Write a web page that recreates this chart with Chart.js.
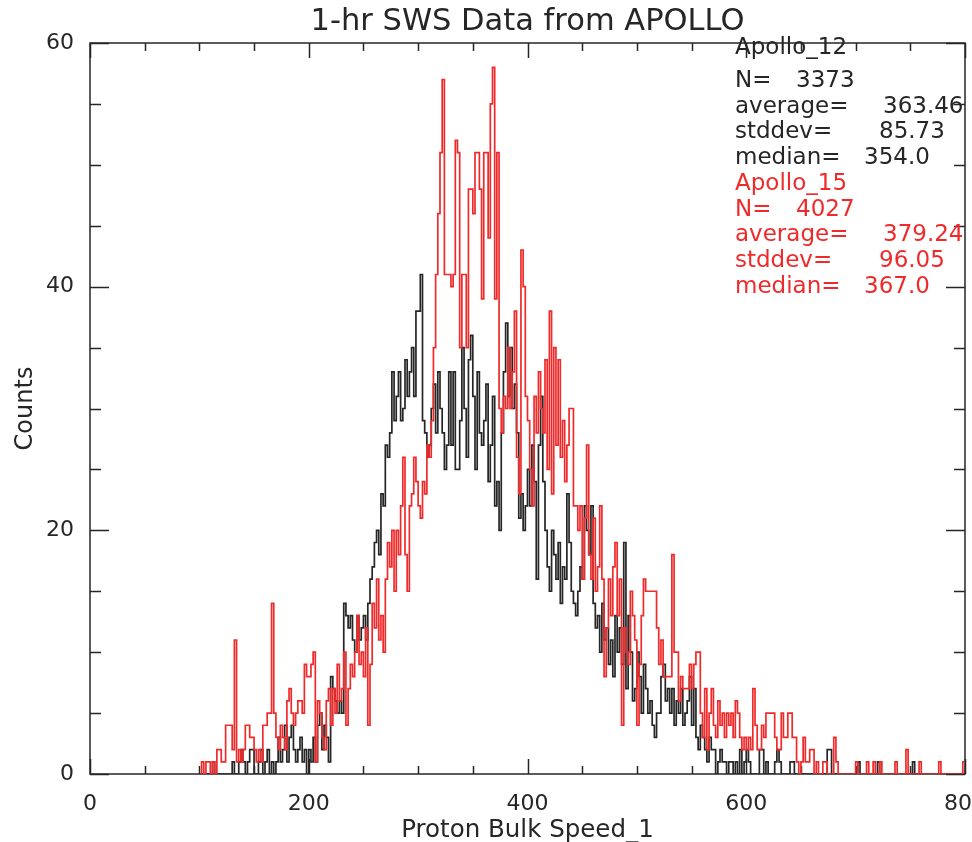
<!DOCTYPE html>
<html>
<head>
<meta charset="utf-8">
<title>1-hr SWS Data from APOLLO</title>
<script src="https://cdn.jsdelivr.net/npm/chart.js@4.4.0/dist/chart.umd.min.js"></script>
<style>
  html, body { margin: 0; padding: 0; background: #fff; }
</style>
</head>
<body>
<canvas id="chart" width="972" height="842"></canvas>
<script>
/* global Chart */
// histogram bins: 2 km/s wide, first bin starts at 100
const binStart = 100;
const binWidth = 2;

// Apollo_12 counts per bin (10 bins per row)
const apollo12Counts = [
  0, 0, 0, 0, 0, 0, 1, 0, 0, 0,
  0, 0, 0, 0, 0, 1, 0, 0, 1, 2,
  1, 0, 1, 2, 2, 0, 0, 1, 2, 0,
  1, 2, 0, 1, 0, 1, 3, 1, 2, 4,
  1, 3, 4, 2, 1, 2, 3, 1, 2, 0,
  2, 1, 3, 1, 4, 5, 2, 4, 3, 1,
  8, 7, 6, 5, 6, 5, 14, 13, 12, 13,
  11, 10, 13, 11, 12, 13, 11, 14, 16, 17,
  19, 20, 18, 23, 22, 27, 26, 28, 33, 29,
  31, 33, 29, 30, 34, 31, 33, 35, 31, 38,
  38, 41, 29, 28, 26, 27, 30, 32, 28, 33,
  30, 28, 25, 27, 33, 27, 33, 25, 25, 29,
  35, 30, 26, 34, 36, 31, 25, 33, 28, 27,
  29, 32, 24, 27, 31, 22, 24, 20, 28, 33,
  37, 31, 35, 30, 32, 28, 21, 23, 20, 22,
  25, 22, 27, 24, 16, 27, 31, 24, 20, 17,
  15, 20, 18, 16, 19, 14, 17, 16, 23, 19,
  15, 14, 13, 15, 17, 16, 22, 20, 18, 22,
  14, 12, 13, 10, 14, 11, 12, 9, 11, 8,
  13, 10, 12, 9, 19, 7, 13, 10, 6, 7,
  10, 8, 5, 9, 7, 5, 6, 4, 3, 5,
  5, 8, 9, 6, 7, 5, 7, 4, 6, 5,
  7, 4, 5, 6, 8, 4, 7, 3, 2, 4,
  3, 2, 1, 3, 2, 2, 0, 1, 2, 1,
  1, 0, 1, 1, 0, 1, 0, 2, 0, 1,
  2, 1, 0, 0, 0, 0, 2, 2, 0, 1,
  0, 0, 0, 1, 2, 1, 0, 0, 0, 0,
  1, 1, 0, 0, 0, 0, 0, 0, 0, 0,
  0, 0, 0, 0, 0, 0, 0, 2, 2, 0,
  0, 0, 0, 0, 0, 0, 0, 0, 0, 0,
  0, 1, 0, 0, 0, 0, 0, 0, 0, 0,
  1, 0, 0, 0, 0, 0, 0, 0, 0, 0,
  0, 0, 0, 0, 0, 0, 1, 0, 0, 0,
  0, 0, 0, 0, 0, 0, 0, 0, 0, 0,
  0, 0, 0, 0, 0, 0, 0, 0, 0, 0
];

// Apollo_15 counts per bin
const apollo15Counts = [
  0, 1, 0, 1, 1, 0, 1, 0, 2, 2,
  1, 1, 4, 4, 4, 2, 11, 1, 2, 1,
  2, 4, 4, 3, 3, 2, 1, 2, 1, 4,
  4, 5, 5, 14, 5, 3, 2, 4, 3, 2,
  6, 7, 5, 4, 5, 6, 6, 5, 9, 8,
  8, 9, 10, 1, 6, 5, 3, 2, 6, 7,
  4, 7, 5, 9, 6, 7, 10, 4, 7, 9,
  8, 10, 13, 9, 10, 8, 12, 4, 9, 14,
  12, 16, 11, 13, 10, 16, 19, 17, 20, 15,
  20, 18, 22, 26, 18, 15, 22, 23, 26, 24,
  22, 21, 24, 23, 27, 26, 29, 35, 41, 46,
  51, 57, 41, 41, 41, 40, 41, 52, 51, 35,
  41, 41, 35, 48, 48, 46, 51, 51, 48, 39,
  51, 51, 44, 55, 58, 39, 51, 30, 28, 31,
  30, 35, 30, 33, 38, 26, 23, 43, 40, 31,
  29, 25, 22, 31, 28, 33, 30, 28, 34, 25,
  38, 23, 35, 27, 34, 26, 29, 24, 27, 30,
  30, 22, 22, 20, 22, 16, 21, 27, 18, 16,
  21, 15, 17, 22, 16, 8, 12, 16, 13, 17,
  19, 13, 16, 4, 12, 10, 9, 15, 13, 11,
  4, 9, 13, 16, 15, 15, 15, 15, 15, 12,
  9, 11, 8, 8, 8, 8, 18, 10, 10, 6,
  8, 7, 7, 7, 9, 7, 9, 10, 10, 5,
  3, 7, 2, 5, 7, 4, 3, 6, 4, 5,
  3, 5, 4, 5, 3, 6, 5, 3, 2, 3,
  2, 3, 2, 7, 4, 2, 2, 4, 3, 5,
  5, 5, 5, 3, 2, 2, 5, 3, 3, 5,
  5, 3, 3, 1, 0, 1, 3, 1, 1, 2,
  2, 0, 1, 0, 0, 1, 1, 0, 0, 0,
  3, 1, 0, 0, 0, 0, 0, 0, 0, 0,
  1, 0, 0, 0, 0, 1, 0, 0, 1, 0,
  0, 1, 0, 0, 0, 0, 0, 0, 1, 0,
  0, 0, 0, 2, 0, 0, 0, 0, 0, 1,
  0, 0, 0, 0, 0, 0, 0, 0, 1, 0,
  0, 0, 0, 0, 0, 0, 0, 0, 0, 1
];

// axis ticks
const xTicks = [0, 200, 400, 600, 800];
const xMinorTicks = [0, 50, 100, 150, 200, 250, 300, 350, 400, 450, 500, 550, 600, 650, 700, 750, 800];
const yTicks = [0, 20, 40, 60];
const yMinorTicks = [0, 5, 10, 15, 20, 25, 30, 35, 40, 45, 50, 55, 60];

// stats block printed in the upper right
const statsApollo12 = [['Apollo_12', ''], ['N=', '3373'], ['average=', '363.46'], ['stddev=', '85.73'], ['median=', '354.0']];
const statsApollo15 = [['Apollo_15', ''], ['N=', '4027'], ['average=', '379.24'], ['stddev=', '96.05'], ['median=', '367.0']];

const FONT = '"DejaVu Sans", "Liberation Sans", sans-serif';
const INK = '#262626';
const RED = '#f02a2a';

function toPoints(counts) {
  return counts.map((c, i) => ({ x: binStart + i * binWidth + binWidth / 2, y: c }));
}

// box with inward ticks on all four sides, drawn under the histograms
const frameTicks = {
  id: 'frameTicks',
  beforeDatasetsDraw(chart) {
    const { ctx, chartArea: a, scales: { x, y } } = chart;
    ctx.save();
    ctx.strokeStyle = INK;
    ctx.lineWidth = 1.5;
    ctx.strokeRect(a.left, a.top, a.right - a.left, a.bottom - a.top);
    ctx.beginPath();
    xMinorTicks.forEach(v => {
      const px = Math.round(x.getPixelForValue(v)) + 0.5;
      const len = xTicks.includes(v) ? 15 : 8;
      ctx.moveTo(px, a.bottom); ctx.lineTo(px, a.bottom - len);
      ctx.moveTo(px, a.top); ctx.lineTo(px, a.top + len);
    });
    yMinorTicks.forEach(v => {
      const py = Math.round(y.getPixelForValue(v)) + 0.5;
      const len = yTicks.includes(v) ? 19 : 11;
      ctx.moveTo(a.left, py); ctx.lineTo(a.left + len, py);
      ctx.moveTo(a.right, py); ctx.lineTo(a.right - len, py);
    });
    ctx.stroke();
    ctx.restore();
  },
  afterDatasetsDraw(chart) {
    const { ctx } = chart;
    const valueX = { 'N=': 796, 'average=': 883, 'stddev=': 879, 'median=': 864 };
    const rowsY = [54, 87, 113, 138, 164, 190, 216, 241, 267, 293];
    ctx.save();
    ctx.font = '23px ' + FONT;
    ctx.textBaseline = 'alphabetic';
    ctx.textAlign = 'left';
    statsApollo12.concat(statsApollo15).forEach((row, i) => {
      ctx.fillStyle = i < statsApollo12.length ? INK : RED;
      ctx.fillText(row[0], 735, rowsY[i]);
      if (row[1]) ctx.fillText(row[1], valueX[row[0]], rowsY[i]);
    });
    ctx.restore();
  }
};

new Chart(document.getElementById('chart'), {
  type: 'line',
  data: {
    datasets: [
      { label: 'Apollo_15', data: toPoints(apollo15Counts), borderColor: RED, order: 0 },
      { label: 'Apollo_12', data: toPoints(apollo12Counts), borderColor: INK, order: 1 }
    ]
  },
  options: {
    responsive: false,
    animation: false,
    layout: { padding: { top: 0, left: 0, right: 7, bottom: 0 } },
    elements: {
      line: { borderWidth: 1.7, stepped: 'middle', tension: 0, fill: false },
      point: { radius: 0 }
    },
    plugins: {
      legend: { display: false },
      tooltip: { enabled: false },
      title: {
        display: true,
        text: '1-hr SWS Data from APOLLO',
        fullSize: false,
        color: INK,
        font: { family: FONT, size: 30.5, weight: 'normal', lineHeight: 1.2 },
        padding: { top: 4, bottom: 2.4 }
      }
    },
    scales: {
      x: {
        type: 'linear',
        min: 0,
        max: 800,
        afterBuildTicks: s => { s.ticks = xTicks.map(v => ({ value: v })); },
        afterFit: s => { s.height = 68; s.paddingLeft = 0; s.paddingRight = 0; },
        grid: { display: false },
        border: { display: false },
        ticks: { color: INK, font: { family: FONT, size: 22 }, padding: 9, maxRotation: 0, autoSkip: false },
        title: { display: true, text: 'Proton Bulk Speed_1', color: INK, font: { family: FONT, size: 24.5, lineHeight: 1 }, padding: { top: 0, bottom: -1 } }
      },
      y: {
        min: 0,
        max: 60,
        afterBuildTicks: s => { s.ticks = yTicks.map(v => ({ value: v })); },
        afterFit: s => { s.width = 90; s.paddingTop = 0; s.paddingBottom = 0; },
        grid: { display: false },
        border: { display: false },
        ticks: { color: INK, font: { family: FONT, size: 22 }, padding: 8 },
        title: { display: true, text: 'Counts', color: INK, font: { family: FONT, size: 24 }, padding: { top: 11, bottom: 0 } }
      }
    }
  },
  plugins: [frameTicks]
});
</script>
</body>
</html>
